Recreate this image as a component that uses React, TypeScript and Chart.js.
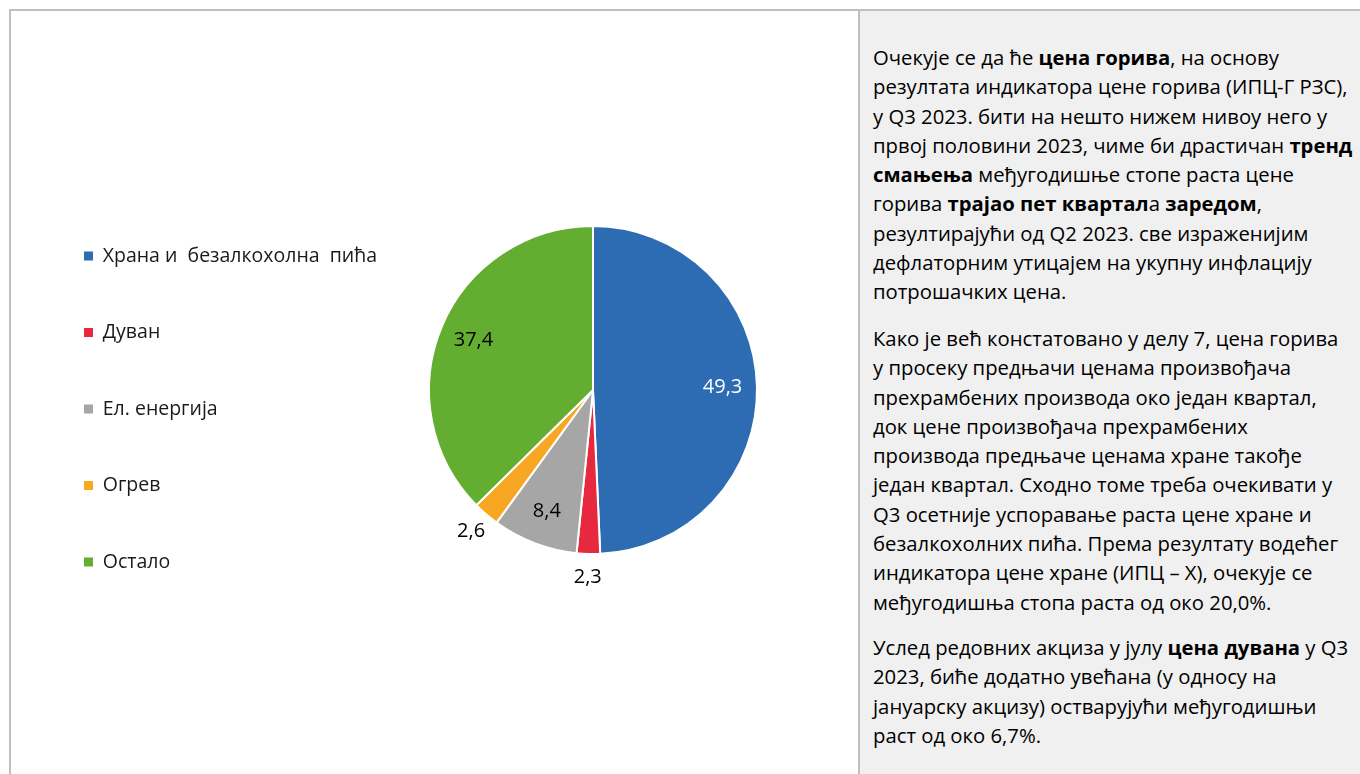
import React, { useEffect, useRef } from 'react';
import { Chart, registerables } from 'chart.js';

Chart.register(...registerables);

const categories = ['Храна и  безалкохолна  пића', 'Дуван', 'Ел. енергија', 'Огрев', 'Остало'];
const values = [49.3, 2.3, 8.4, 2.6, 37.4];
const valueLabels = ['49,3', '2,3', '8,4', '2,6', '37,4'];
const sliceColors = ['#2D6BB3', '#E7293F', '#A6A6A6', '#F7A721', '#63AE31'];
const labelColors = ['#FFFFFF', '#000000', '#000000', '#000000', '#000000'];

const FONT = '"Open Sans", "Noto Sans", sans-serif';

type Seg = { t: string; b?: boolean };
const para1: Seg[][] = [
  [{ t: 'Очекује се да ће ' }, { t: 'цена горива', b: true }, { t: ', на основу' }],
  [{ t: 'резултата индикатора цене горива (ИПЦ-Г РЗС),' }],
  [{ t: 'у Q3 2023. бити на нешто нижем нивоу него у' }],
  [{ t: 'првој половини 2023, чиме би драстичан ' }, { t: 'тренд', b: true }],
  [{ t: 'смањења', b: true }, { t: ' међугодишње стопе раста цене' }],
  [{ t: 'горива ' }, { t: 'трајао пет квартал', b: true }, { t: 'а ' }, { t: 'заредом', b: true }, { t: ',' }],
  [{ t: 'резултирајући од Q2 2023. све израженијим' }],
  [{ t: 'дефлаторним утицајем на укупну инфлацију' }],
  [{ t: 'потрошачких цена.' }],
];
const para2: Seg[][] = [
  [{ t: 'Како је већ констатовано у делу 7, цена горива' }],
  [{ t: 'у просеку предњачи ценама произвођача' }],
  [{ t: 'прехрамбених производа око један квартал,' }],
  [{ t: 'док цене произвођача прехрамбених' }],
  [{ t: 'производа предњаче ценама хране такође' }],
  [{ t: 'један квартал. Сходно томе треба очекивати у' }],
  [{ t: 'Q3 осетније успоравање раста цене хране и' }],
  [{ t: 'безалкохолних пића. Према резултату водећег' }],
  [{ t: 'индикатора цене хране (ИПЦ – Х), очекује се' }],
  [{ t: 'међугодишња стопа раста од око 20,0%.' }],
];
const para3: Seg[][] = [
  [{ t: 'Услед редовних акциза у јулу ' }, { t: 'цена дувана', b: true }, { t: ' у Q3' }],
  [{ t: '2023, биће додатно увећана (у односу на' }],
  [{ t: 'јануарску акцизу) остварујући међугодишњи' }],
  [{ t: 'раст од око 6,7%.' }],
];

const sliceLabelPlugin = {
  id: 'sliceLabels',
  afterDatasetsDraw(chart: any) {
    const meta = chart.getDatasetMeta(0);
    const ctx = chart.ctx;
    const total = values.reduce((a, b) => a + b, 0);
    ctx.save();
    ctx.font = `20px ${FONT}`;
    ctx.textAlign = 'center';
    ctx.textBaseline = 'middle';
    meta.data.forEach((arc: any, i: number) => {
      const p = arc.getProps(['x', 'y', 'startAngle', 'endAngle', 'outerRadius'], true);
      const mid = (p.startAngle + p.endAngle) / 2;
      const share = values[i] / total;
      const f = share < 0.05 ? 1.14 : 0.79;
      ctx.fillStyle = labelColors[i];
      ctx.fillText(valueLabels[i], p.x + Math.cos(mid) * p.outerRadius * f, p.y + Math.sin(mid) * p.outerRadius * f);
    });
    ctx.restore();
  },
};

const LEGEND_WIDTH = 366;
const legendWidthPlugin = {
  id: 'legendWidth',
  beforeInit(chart: any) {
    const lg = chart.legend;
    if (!lg) return;
    const orig = lg.fit;
    lg.fit = function () {
      orig.call(this);
      this.width = LEGEND_WIDTH;
    };
  },
};

function PieChart() {
  const ref = useRef<HTMLCanvasElement | null>(null);
  useEffect(() => {
    if (!ref.current) return;
    const baseGen = (Chart as any).overrides.doughnut.plugins.legend.labels.generateLabels;
    const chart = new Chart(ref.current, {
      type: 'pie',
      data: {
        labels: categories,
        datasets: [
          {
            data: values,
            backgroundColor: sliceColors,
            borderColor: '#FFFFFF',
            borderWidth: 2,
            radius: 164,
          } as any,
        ],
      },
      options: {
        animation: false,
        responsive: false,
        layout: { padding: { left: 16, top: 10, bottom: 15, right: 65 } },
        plugins: {
          legend: {
            position: 'left',
            align: 'center',
            title: { display: true, text: ' ', font: { size: 10, lineHeight: 1.2 }, padding: { top: 14, bottom: 12 } },
            labels: {
              boxWidth: 9,
              boxHeight: 9,
              padding: 57,
              color: '#1a1a1a',
              font: { family: FONT, size: 19.5 },
              generateLabels: (c: any) =>
                baseGen(c).map((l: any) => ({ ...l, lineWidth: 0, strokeStyle: 'rgba(0,0,0,0)' })),
            },
          },
          tooltip: { enabled: false },
        },
      } as any,
      plugins: [legendWidthPlugin, sliceLabelPlugin],
    });
    return () => chart.destroy();
  }, []);
  return <canvas ref={ref} width={847} height={763} style={{ display: 'block', width: 847, height: 763 }} />;
}

function Para({ lines, top }: { lines: Seg[][]; top: number }) {
  return (
    <div style={{ position: 'absolute', left: 13, top }}>
      {lines.map((ln, i) => (
        <div key={i} style={{ whiteSpace: 'pre', height: 29.3, lineHeight: '29.3px' }}>
          {ln.map((s, j) => (s.b ? <b key={j}>{s.t}</b> : <span key={j}>{s.t}</span>))}
        </div>
      ))}
    </div>
  );
}

export default function App() {
  useEffect(() => {
    document.body.style.margin = '0';
    document.body.style.overflow = 'hidden';
  }, []);
  return (
    <div style={{ position: 'absolute', left: 0, top: 0, width: 1360, height: 774, overflow: 'hidden', background: '#fff' }}>
      <div style={{ position: 'absolute', left: 9, top: 9, width: 1360, height: 2, background: '#BFBFBF' }} />
      <div style={{ position: 'absolute', left: 9, top: 9, width: 2, height: 774, background: '#BFBFBF' }} />
      <div style={{ position: 'absolute', left: 11, top: 11 }}>
        <PieChart />
      </div>
      <div
        style={{
          position: 'absolute',
          left: 858,
          top: 11,
          width: 502,
          height: 763,
          borderLeft: '2px solid #BFBFBF',
          background: '#F0F0F0',
          boxSizing: 'border-box',
          fontFamily: FONT,
          fontSize: 20.3,
          color: '#000',
        }}
      >
        <Para lines={para1} top={32} />
        <Para lines={para2} top={313} />
        <Para lines={para3} top={622} />
      </div>
    </div>
  );
}
